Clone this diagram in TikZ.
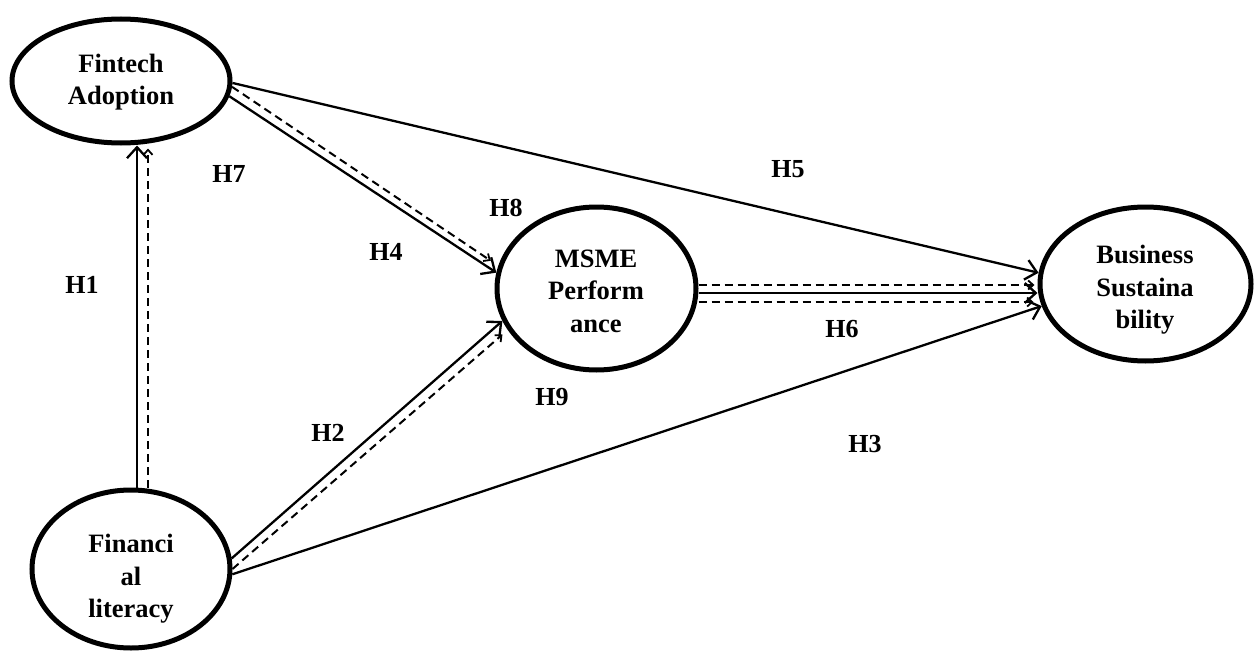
\documentclass[tikz,border=0pt]{standalone}
\usepackage{fontspec}
\setmainfont{Liberation Serif}
\usetikzlibrary{shapes.geometric,arrows.meta,calc}
\tikzset{
  ell/.style={ellipse,draw,line width=5pt,inner sep=0pt},
  txt/.style={font=\bfseries\fontsize{26.5}{32.5}\selectfont,align=center,inner sep=0pt},
  hlab/.style={font=\bfseries\fontsize{26}{30}\selectfont,inner sep=0pt},
  sarr/.style={line width=2.3pt,-{Straight Barb[length=11pt,width=20pt,line width=2.3pt]}},
  darr/.style={line width=2pt,dash pattern=on 8pt off 5pt,-{Straight Barb[length=5pt,width=9pt,line width=1.8pt]}},
}
\begin{document}
\begin{tikzpicture}[x=1pt,y=-1pt]
\useasboundingbox (0,0) rectangle (1254,653);
% ellipses
\node[ell,minimum width=218pt,minimum height=124pt] (fa) at (121,81) {};
\node[ell,minimum width=198pt,minimum height=158pt] (fl) at (131,569) {};
\node[ell,minimum width=199pt,minimum height=163pt] (ms) at (596.5,288.5) {};
\node[ell,minimum width=211pt,minimum height=154pt] (bs) at (1145.5,284) {};
% texts
\node[txt] (fat) at (121,82) {Fintech\\Adoption};
\node[txt] (flt) at (131,579) {Financi\\al\\literacy};
\node[txt] (mst) at (596,291) {MSME\\Perform\\ance};
\node[txt] (bst) at (1145,290) {Business\\Sustaina\\bility};
% H1 / H7 vertical
\coordinate (h1s) at ($(fl.north)+(6,0)$);
\coordinate (h7s) at ($(fl.north)+(17,0)$);
\draw[sarr] (h1s) -- (h1s |- fa.south);
\draw[darr,shorten >=3pt] (h7s) -- (h7s |- fa.south);
% Fintech -> MSME
\draw[sarr] (fa.-8.2) -- (ms.171.5);
\draw[darr,shorten >=9pt] (fa.-3.6) -- (ms.167.7);
% Fintech -> Business
\draw[sarr] (fa.-1) -- (bs.174.2);
% Financial -> MSME
\draw[sarr] (fl.6.2) -- (ms.199.55);
\draw[darr,shorten >=7pt] (fl.0) -- (ms.205.4);
% Financial -> Business
\draw[sarr] (fl.-3.4) -- (bs.192.5);
% MSME -> Business
\coordinate (m6a) at ($(ms.east)+(0,-3.5)$);
\coordinate (m6b) at ($(ms.east)+(0,4.5)$);
\coordinate (m6c) at ($(ms.east)+(0,13.5)$);
\draw[darr,shorten >=3pt] (m6a) -- (m6a -| bs.west);
\draw[sarr] (m6b) -- (m6b -| bs.west);
\draw[darr,shorten >=4pt] (m6c) -- (m6c -| bs.west);
% labels
\node[hlab] (h1) at (82,285) {H1};
\node[hlab] (h2) at (328,433) {H2};
\node[hlab] (h3) at (865,444) {H3};
\node[hlab] (h4) at (386,252) {H4};
\node[hlab] (h5) at (788,169) {H5};
\node[hlab] (h6) at (842,329) {H6};
\node[hlab] (h7) at (229,174) {H7};
\node[hlab] (h8) at (506,208) {H8};
\node[hlab] (h9) at (552,397) {H9};
\end{tikzpicture}
\end{document}
